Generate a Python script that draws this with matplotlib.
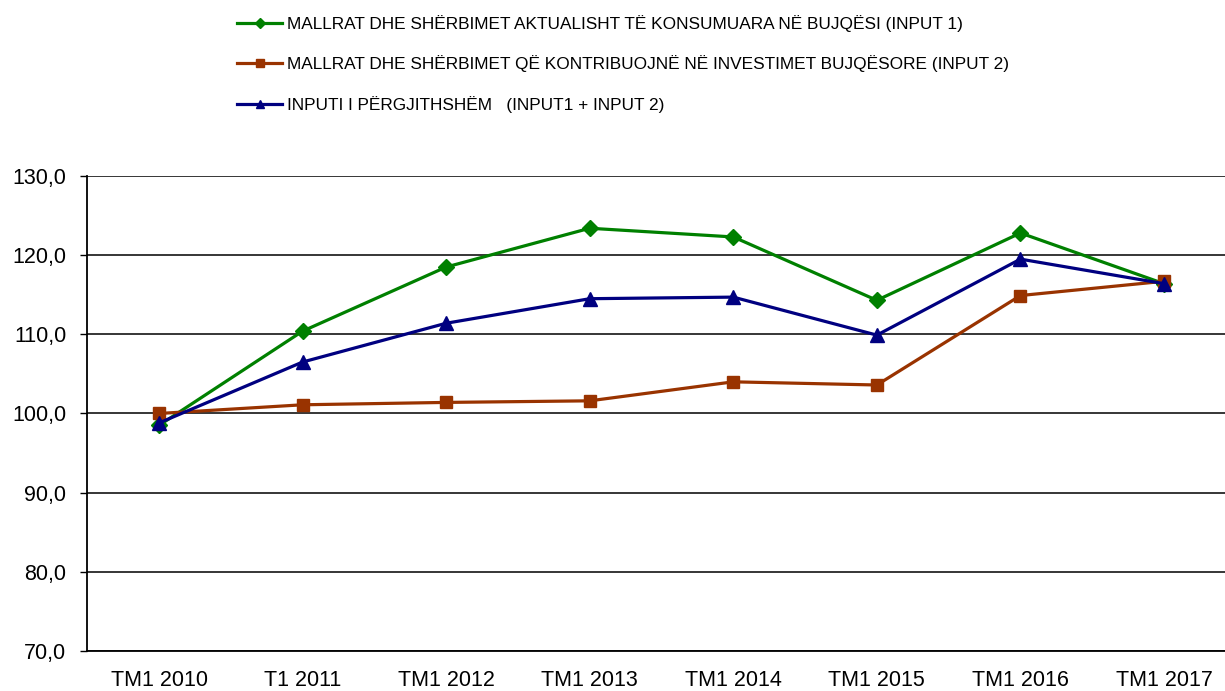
import numpy as np
from matplotlib import pyplot as plt

categories = ["TM1 2010", "T1 2011", "TM1 2012", "TM1 2013",
              "TM1 2014", "TM1 2015", "TM1 2016", "TM1 2017"]

input1 = [98.5, 110.4, 118.5, 123.4, 122.3, 114.3, 122.8, 116.4]
input2 = [100.0, 101.1, 101.4, 101.6, 104.0, 103.6, 114.9, 116.7]
total = [98.8, 106.5, 111.4, 114.5, 114.7, 109.9, 119.5, 116.4]

labels = ["MALLRAT DHE SHËRBIMET AKTUALISHT TË KONSUMUARA NË BUJQËSI (INPUT 1)",
          "MALLRAT DHE SHËRBIMET QË KONTRIBUOJNË NË INVESTIMET BUJQËSORE (INPUT 2)",
          "INPUTI I PËRGJITHSHËM   (INPUT1 + INPUT 2)"]

yticks = [70, 80, 90, 100, 110, 120, 130]

plt.rcParams['font.family'] = ['Liberation Sans', 'DejaVu Sans']

fig = plt.figure(figsize=(12.25, 6.91), dpi=100)
ax = fig.add_axes([0.0712, 0.0579, 0.9376, 0.6874])

x = np.arange(len(categories))
ax.plot(x, input1, color="#008000", lw=2.3, marker="D", ms=8.5, label=labels[0])
ax.plot(x, input2, color="#993300", lw=2.3, marker="s", ms=9, label=labels[1])
ax.plot(x, total, color="#000080", lw=2.3, marker="^", ms=10.5, label=labels[2])

ax.set_xlim(-0.5, len(categories) - 0.5)
ax.set_ylim(70, 130)
ax.set_yticks(yticks)
ax.yaxis.set_major_formatter(plt.FuncFormatter(lambda v, p: ("%.1f" % v).replace(".", ",")))
ax.set_xticks(x)
ax.set_xticklabels(categories)
ax.tick_params(axis="x", length=0, pad=14, labelsize=15.5)
ax.tick_params(axis="y", length=5, width=1, direction="out", pad=10, labelsize=15.5)
ax.grid(axis="y", color="black", lw=1.1)
ax.set_axisbelow(True)
for s in ["top", "right"]:
    ax.spines[s].set_visible(False)
for s in ["left", "bottom"]:
    ax.spines[s].set_linewidth(1.3)

h1, = ax.plot([], [], color="#008000", lw=2.3, marker="D", ms=5)
h2, = ax.plot([], [], color="#993300", lw=2.3, marker="s", ms=6)
h3, = ax.plot([], [], color="#000080", lw=2.3, marker="^", ms=6)
fig.legend([h1, h2, h3], labels, loc="upper left", bbox_to_anchor=(0.181, 1.001),
           frameon=False, fontsize=12.4, handlelength=2.6, handletextpad=0.3,
           labelspacing=1.38)

fig.savefig("out.png", dpi=100)
